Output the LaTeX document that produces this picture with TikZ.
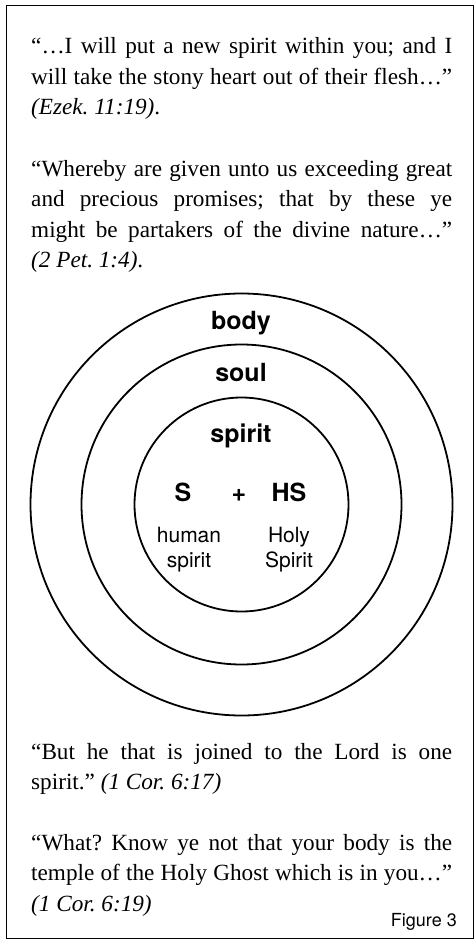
\documentclass[tikz,border=0pt]{standalone}
\usepackage{fontspec}
\setmainfont{Liberation Serif}
\newfontfamily\heros{TeX Gyre Heros}
\frenchspacing

\begin{document}
\begin{tikzpicture}[x=1pt,y=-1pt,
    ring/.style={line width=1.8pt},
    lbl/.style={anchor=base,inner sep=0pt,font=\heros\fontsize{25}{25}\bfseries\selectfont},
    sub/.style={anchor=base,inner sep=0pt,text width=90pt,align=center,font=\heros\fontsize{21}{25}\selectfont},
    verse/.style={anchor=base west,inner sep=0pt,text width=421pt,align=justify,font=\fontsize{23.2}{30.5}\selectfont}]
      \useasboundingbox (0,0) rectangle (476,939);
      \draw[line width=1pt] (6,6) rectangle (473,938);
      % verses above
      \node[verse] (ezek) at (31,54) {“…I will put a new spirit within you; and I\linebreak will take the stony heart out of their flesh…”\linebreak \textit{(Ezek. 11:19)}.};
      \node[verse] (peter) at (31,176) {“Whereby are given unto us exceeding great\linebreak and precious promises; that by these ye\linebreak might be partakers of the divine nature…”\linebreak \textit{(2 Pet. 1:4)}.};
      % body, soul, spirit
      \coordinate (ctr) at (241.5,504.5);
      \draw[ring] (ctr) circle[radius=211pt];
      \draw[ring] (ctr) circle[radius=160pt];
      \draw[ring] (ctr) circle[radius=107pt];
      \node[lbl] (body) at (241,329) {body};
      \node[lbl] (soul) at (241,381) {soul};
      \node[lbl] (spirit) at (241,442) {spirit};
      \node[lbl] (s) at (183,501) {S};
      \node[lbl] (plus) at (239,501) {+};
      \node[lbl] (hs) at (289,501) {HS};
      \node[sub] (human) at (189,542) {human\\spirit};
      \node[sub] (holy) at (289,542) {Holy\\Spirit};
      % verses below
      \node[verse] (corA) at (31,759) {“But he that is joined to the Lord is one\linebreak spirit.” \textit{(1 Cor. 6:17)}};
      \node[verse] (corB) at (31,850) {“What? Know ye not that your body is the\linebreak temple of the Holy Ghost which is in you…”\linebreak \textit{(1 Cor. 6:19)}};
      \node[anchor=base east,inner sep=0pt,font=\heros\fontsize{18}{18}\selectfont] (fig) at (457,926) {Figure 3};
    \end{tikzpicture}
\end{document}
